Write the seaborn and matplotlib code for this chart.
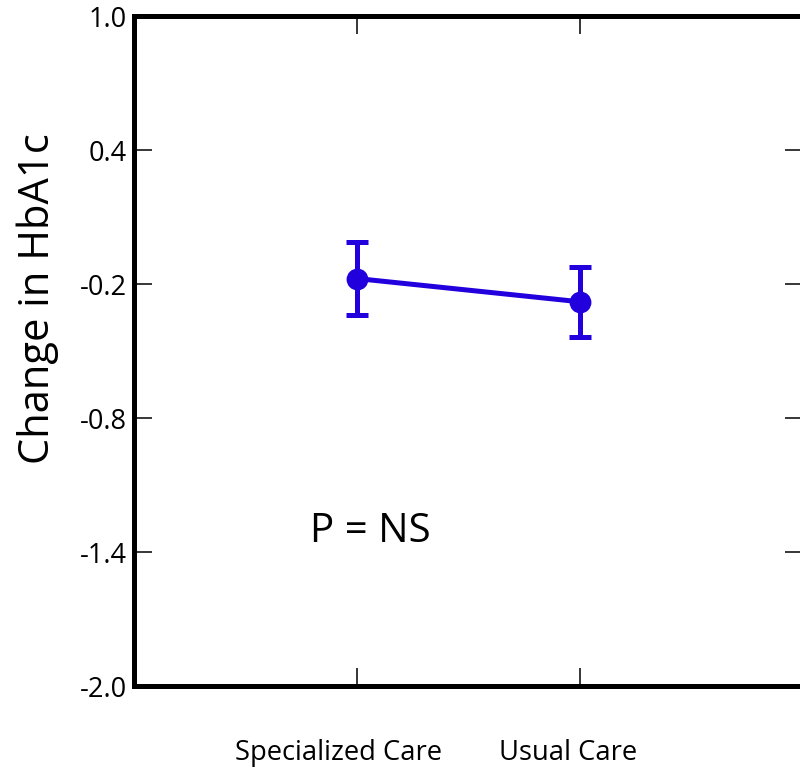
import matplotlib
matplotlib.use("Agg")
import matplotlib.pyplot as plt
import matplotlib.transforms as mtransforms
import seaborn as sns
import pandas as pd

# Data
groups = ["Specialized Care", "Usual Care"]
means = [-0.175, -0.279]
errors = [0.162, 0.157]
yticks = [1.0, 0.4, -0.2, -0.8, -1.4, -2.0]
ytick_labels = ["1.0", "0.4", "-0.2", "-0.8", "-1.4", "-2.0"]
annotation = "P = NS"
ylabel = "Change in HbA1c"

sns.set_theme(style="white")
plt.rcParams['font.family'] = ['Open Sans', 'DejaVu Sans']

fig = plt.figure(figsize=(8, 7.7), dpi=100)
ax = fig.add_axes([0.1675, 0.109, 0.836, 0.870])

color = "#2200DD"
df = pd.DataFrame({"group": groups, "change": means})
sns.pointplot(data=df, x="group", y="change", color=color, errorbar=None,
              markersize=13, linewidth=3.6, ax=ax, zorder=3)
ax.errorbar(range(len(groups)), means, yerr=errors, fmt='none', ecolor=color,
            elinewidth=3.6, capsize=8, capthick=3.6, zorder=2)

ax.set_xlim(-1, 2)
ax.set_ylim(-2, 1)
ax.set_yticks(yticks)
ax.set_yticklabels(ytick_labels)

ax.tick_params(axis='both', direction='in', length=13, width=1.1, color='black',
               labelcolor='black')
ax.tick_params(axis='y', left=True, right=True, pad=5, labelsize=19.5)
ax.tick_params(axis='x', bottom=True, top=True, pad=38, labelsize=19.7)

for s in ax.spines.values():
    s.set_visible(True)
    s.set_linewidth(3.6)
    s.set_color('black')
ax.grid(False)

ax.set_xlabel("")
ax.set_ylabel(ylabel, fontsize=30, color='black')
ax.yaxis.set_label_coords(-0.112, 0.579)

ax.text(0.06, -1.31, annotation, ha='center', va='center', fontsize=29, color='black')

# shift category labels slightly left as in the reference
shifts = [-18, -12]
for lab, dx in zip(ax.get_xticklabels(), shifts):
    lab.set_transform(lab.get_transform() +
                      mtransforms.ScaledTranslation(dx / 100, 0, fig.dpi_scale_trans))

fig.savefig("out.png", dpi=100)
